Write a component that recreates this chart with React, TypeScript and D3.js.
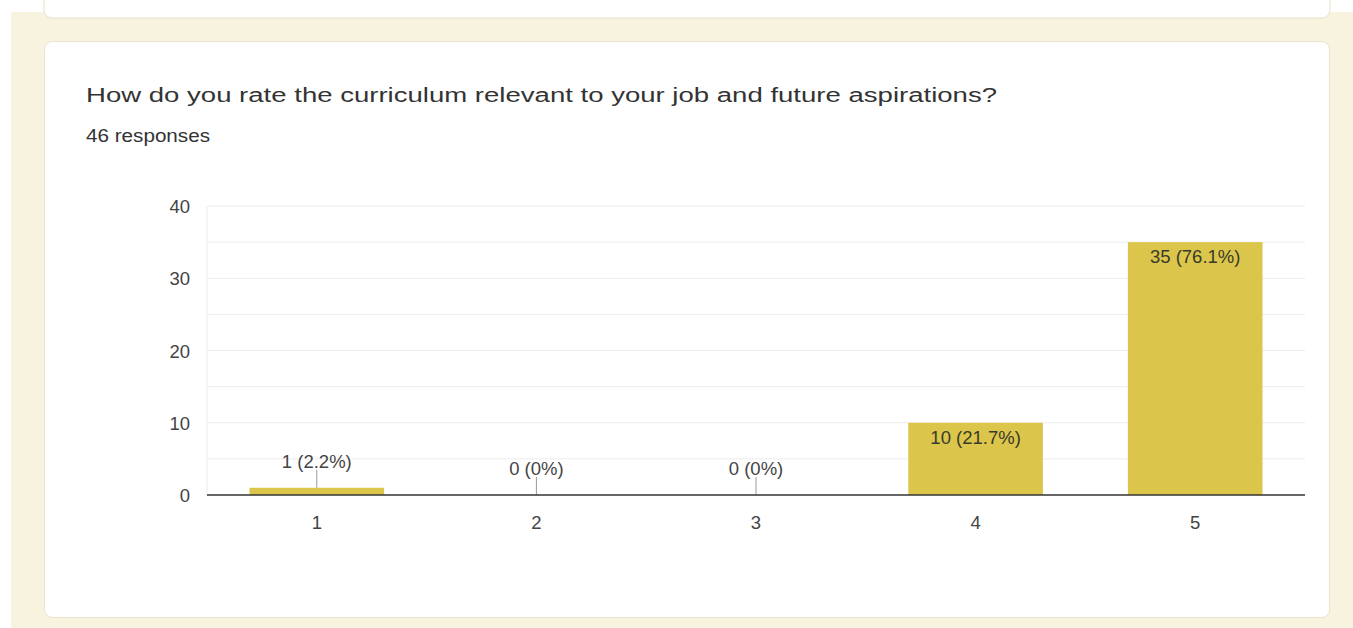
import React from "react";
import * as d3 from "d3";

const categories = ["1", "2", "3", "4", "5"];
const counts = [1, 0, 0, 10, 35];
const percents = ["2.2%", "0%", "0%", "21.7%", "76.1%"];
const yTicks = [0, 10, 20, 30, 40];
const gridValues = [5, 10, 15, 20, 25, 30, 35, 40];
const title = "How do you rate the curriculum relevant to your job and future aspirations?";
const subtitle = "46 responses";

export default function App() {
  const W = 1353, H = 628;
  const left = 207, right = 1305, top = 206, bottom = 495;
  const x = d3.scaleBand().domain(categories).range([left, right]).paddingInner(0.387).paddingOuter(0.1935);
  const y = d3.scaleLinear().domain([0, 40]).range([bottom, top]);
  const barColor = "#dbc64b";
  const font = "'Liberation Sans', Arial, sans-serif";
  const fs = 18.5;
  return (
    <div style={{ position: "fixed", left: 0, top: 0, width: W, height: H, background: "#fff" }}>
      <svg width={W} height={H} style={{ display: "block" }}>
        <rect x={11} y={0} width={W - 11} height={H} fill="#f8f3de" />
        <rect x={0} y={0} width={W} height={12} fill="#fff" />
        <rect x={44} y={-20} width={1286} height={38} rx={8} fill="#fff" stroke="#e6e1cc" strokeWidth={1} />
        <rect x={44.5} y={41.5} width={1285} height={576} rx={8} fill="#fff" stroke="#e8e3cf" strokeWidth={1} />
        <text x={86} y={102} fontFamily={font} fontSize={20} fill="#333" textLength={911} lengthAdjust="spacingAndGlyphs">{title}</text>
        <text x={86} y={142} fontFamily={font} fontSize={17.5} fill="#333" textLength={124} lengthAdjust="spacingAndGlyphs">{subtitle}</text>
        {gridValues.map(v => (
          <line key={v} x1={left} x2={right} y1={y(v)} y2={y(v)} stroke="#ececec" strokeWidth={1} />
        ))}
        <line x1={left} x2={left} y1={top} y2={bottom} stroke="#ececec" />
        {yTicks.map(v => (
          <text key={v} x={190} y={y(v) + 7} textAnchor="end" fontFamily={font} fontSize={fs} fill="#444">{v}</text>
        ))}
        {categories.map((c, i) => {
          const bx = x(c)!;
          const bw = x.bandwidth();
          const cx = bx + bw / 2;
          const v = counts[i];
          const label = `${v} (${percents[i]})`;
          const inside = y(0) - y(v) > 25;
          return (
            <g key={c}>
              {v > 0 && <rect x={bx} y={y(v)} width={bw} height={y(0) - y(v)} fill={barColor} />}
              {inside ? (
                <text x={cx} y={y(v) + 21} textAnchor="middle" fontFamily={font} fontSize={fs} fill="#3a3a2a">{label}</text>
              ) : (
                <g>
                  <line x1={cx} x2={cx} y1={y(v) - 18} y2={y(v)} stroke="#999" />
                  <text x={cx} y={y(v) - 20} textAnchor="middle" fontFamily={font} fontSize={fs} fill="#444">{label}</text>
                </g>
              )}
              <text x={cx} y={529} textAnchor="middle" fontFamily={font} fontSize={fs} fill="#444">{c}</text>
            </g>
          );
        })}
        <line x1={left} x2={right} y1={bottom} y2={bottom} stroke="#333" strokeWidth={1.5} />
      </svg>
    </div>
  );
}
